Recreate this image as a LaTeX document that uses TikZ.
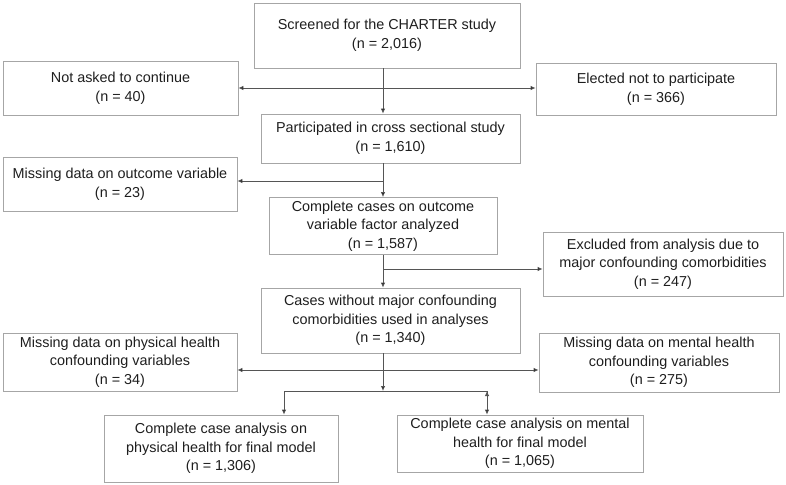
\documentclass[tikz,border=0pt]{standalone}
\usepackage{fontspec}
\setmainfont{Liberation Sans}
\usetikzlibrary{arrows.meta}

\definecolor{boxline}{HTML}{A6A6A6}
\definecolor{flowline}{HTML}{555555}
\definecolor{boxtext}{HTML}{1E1E1E}

\tikzset{
  box/.style={draw=boxline, line width=0.8pt, rectangle, inner sep=0pt,
    align=center, text=boxtext, font=\fontsize{14.4}{18.6}\selectfont},
  flow/.style={draw=flowline, line width=0.8pt, ->}
}

\begin{document}
\begin{tikzpicture}[x=1pt,y=-1pt,>={Latex[length=5pt,width=4.5pt]}]
  \useasboundingbox (0,0) rectangle (786,484);
  \path
  node[box, minimum width=266pt, minimum height=65pt] (screen) at (387,35.5)
    {Screened for the CHARTER study\\(n = 2,016)}
  node[box, minimum width=235pt, minimum height=54pt] (notasked) at (120.5,88)
    {Not asked to continue\\(n = 40)}
  node[box, minimum width=240pt, minimum height=52pt] (elected) at (656,89)
    {Elected not to participate\\(n = 366)}
  node[box, minimum width=259pt, minimum height=49pt] (particip) at (390.5,138.5)
    {Participated in cross sectional study\\(n = 1,610)}
  node[box, minimum width=234pt, minimum height=54pt] (missout) at (120,184)
    {Missing data on outcome variable\\(n = 23)}
  node[box, minimum width=228pt, minimum height=57pt] (complete) at (383,226)
    {Complete cases on outcome\\variable factor analyzed\\(n = 1,587)}
  node[box, minimum width=240pt, minimum height=64pt] (excluded) at (663,264)
    {Excluded from analysis due to\\major confounding comorbidities\\(n = 247)}
  node[box, minimum width=259pt, minimum height=65pt] (noncomorb) at (390.5,320.5)
    {Cases without major confounding\\comorbidities used in analyses\\(n = 1,340)}
  node[box, minimum width=234pt, minimum height=58pt] (missphys) at (120,362)
    {Missing data on physical health\\confounding variables\\(n = 34)}
  node[box, minimum width=240pt, minimum height=59pt] (missment) at (659,362.5)
    {Missing data on mental health\\confounding variables\\(n = 275)}
  node[box, minimum width=234pt, minimum height=67pt] (finalphys) at (221,448.5)
    {Complete case analysis on\\physical health for final model\\(n = 1,306)}
  node[box, minimum width=246pt, minimum height=57pt] (finalment) at (520,443.5)
    {Complete case analysis on mental\\health for final model\\(n = 1,065)}
  ;
  % trunk and branch points
  \coordinate (trunk) at (383,0);
  \coordinate (j1) at (383,88);
  \coordinate (j2) at (383,181);
  \coordinate (j3) at (383,269);
  \coordinate (j4) at (383,370);
  \coordinate (j5) at (383,391);
  \coordinate (sl) at (284,391);
  \coordinate (sr) at (487,391);

  \path[flow]
  (screen.south -| trunk) edge (particip.north -| trunk)
  (j1) edge (notasked.east |- j1)
  (j1) edge (elected.west |- j1)
  (particip.south -| trunk) edge (complete.north -| trunk)
  (j2) edge (missout.east |- j2)
  (complete.south -| trunk) edge (noncomorb.north -| trunk)
  (j3) edge (excluded.west |- j3)
  (noncomorb.south -| trunk) edge (j5)
  (j4) edge (missphys.east |- j4)
  (j4) edge (missment.west |- j4)
  (sl) edge (finalphys.north -| sl)
  (sr) edge (finalment.north -| sr)
  ;
  \draw[draw=flowline, line width=0.8pt] (sl) -- (sr);
\end{tikzpicture}
\end{document}
